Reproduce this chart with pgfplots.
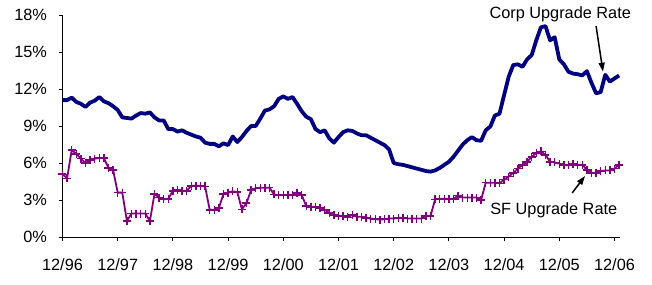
\documentclass[border=0pt]{standalone}
\usepackage{pgfplots}
\pgfplotsset{compat=1.18}
\usepackage{pgfplotstable}
\usepackage{fontspec}
\setmainfont{Liberation Sans}
\usetikzlibrary{arrows.meta}
\definecolor{corpc}{RGB}{0,0,128}
\definecolor{sfc}{RGB}{128,0,128}

\pgfplotstableread{
m corp sf
0 11.1 5.1
1 11.1 4.75
2 11.3 7.05
3 10.95 6.75
4 10.8 6.35
5 10.55 6.0
6 10.9 6.25
7 11.05 6.35
8 11.35 6.4
9 11.0 6.4
10 10.85 5.6
11 10.6 5.45
12 10.3 3.6
13 9.7 3.6
14 9.65 1.3
15 9.6 1.9
16 9.85 1.9
17 10.05 1.9
18 10.0 1.9
19 10.1 1.3
20 9.7 3.5
21 9.45 3.2
22 9.45 3.05
23 8.75 3.1
24 8.75 3.75
25 8.55 3.8
26 8.65 3.75
27 8.45 3.75
28 8.3 4.15
29 8.15 4.15
30 8.05 4.15
31 7.65 4.1
32 7.55 2.2
33 7.55 2.2
34 7.35 2.35
35 7.6 3.5
36 7.45 3.6
37 8.15 3.7
38 7.7 3.65
39 8.1 2.25
40 8.6 2.75
41 9.0 3.8
42 9.0 3.95
43 9.6 4.0
44 10.25 4.0
45 10.35 4.0
46 10.6 3.45
47 11.2 3.4
48 11.4 3.4
49 11.2 3.4
50 11.35 3.4
51 10.8 3.55
52 10.2 3.4
53 9.75 2.5
54 9.55 2.45
55 8.75 2.45
56 8.5 2.35
57 8.65 2.2
58 8.0 1.95
59 7.65 1.8
60 8.1 1.7
61 8.5 1.7
62 8.65 1.6
63 8.6 1.8
64 8.4 1.65
65 8.25 1.65
66 8.25 1.55
67 8.05 1.5
68 7.85 1.45
69 7.65 1.4
70 7.45 1.45
71 7.1 1.5
72 6.0 1.5
73 5.9 1.55
74 5.85 1.55
75 5.75 1.5
76 5.65 1.5
77 5.55 1.5
78 5.45 1.5
79 5.35 1.7
80 5.3 1.7
81 5.4 3.05
82 5.6 3.1
83 5.85 3.1
84 6.1 3.1
85 6.5 3.1
86 7.0 3.35
87 7.5 3.2
88 7.85 3.2
89 8.1 3.2
90 7.85 3.2
91 7.8 3.0
92 8.65 4.4
93 8.95 4.4
94 9.85 4.4
95 10.0 4.35
96 11.5 4.65
97 13.0 4.9
98 13.95 5.2
99 14.0 5.55
100 13.8 5.85
101 14.4 6.1
102 14.75 6.5
103 15.95 6.8
104 17.0 6.95
105 17.1 6.65
106 15.95 6.1
107 16.2 6.05
108 14.4 5.95
109 14.0 5.85
110 13.4 5.8
111 13.25 5.9
112 13.2 5.85
113 13.1 5.85
114 13.45 5.45
115 12.5 5.2
116 11.65 5.2
117 11.75 5.35
118 13.15 5.4
119 12.6 5.4
120 12.85 5.55
121 13.1 5.85
}\data

\begin{document}
\begin{tikzpicture}
\useasboundingbox (0,0) rectangle (652pt,284pt);
\begin{axis}[
  at={(62.5pt,47pt)}, anchor=south west,
  scale only axis, width=557.5pt, height=222pt,
  xmin=0, xmax=121.2, ymin=0, ymax=18,
  axis x line*=bottom, axis y line*=left,
  axis line style={line width=1pt, -},
  xtick={0,12,...,120},
  xticklabels={12/96,12/97,12/98,12/99,12/00,12/01,12/02,12/03,12/04,12/05,12/06},
  ytick={0,3,...,18},
  yticklabels={0\%,3\%,6\%,9\%,12\%,15\%,18\%},
  tick align=outside, major tick length=4pt,
  tick style={line width=1pt, black},
  ticklabel style={font=\fontsize{16.3}{19}\selectfont},
  x tick label style={yshift=-14pt},
  y tick label style={xshift=-8pt},
  clip=false,
]
\addplot[corpc, line width=3.8pt, line join=round] table[x=m,y=corp]{\data};
\addplot[sfc, line width=1.8pt, line join=round, mark=+, mark size=4pt, mark options={line width=1.5pt}] table[x=m,y=sf]{\data};
\node[font=\fontsize{16.3}{19}\selectfont] at (axis cs:108.2,18.04) {Corp Upgrade Rate};
\draw[-{Triangle[length=9pt,width=6pt]}, line width=1.5pt] (axis cs:116,17.1) -- (axis cs:117.5,13.4);
\node[font=\fontsize{16.3}{19}\selectfont] at (axis cs:106.8,2.19) {SF Upgrade Rate};
\draw[-{Triangle[length=9pt,width=6pt]}, line width=1.5pt] (axis cs:110.8,3.57) -- (axis cs:113.6,4.95);
\end{axis}
\end{tikzpicture}
\end{document}
